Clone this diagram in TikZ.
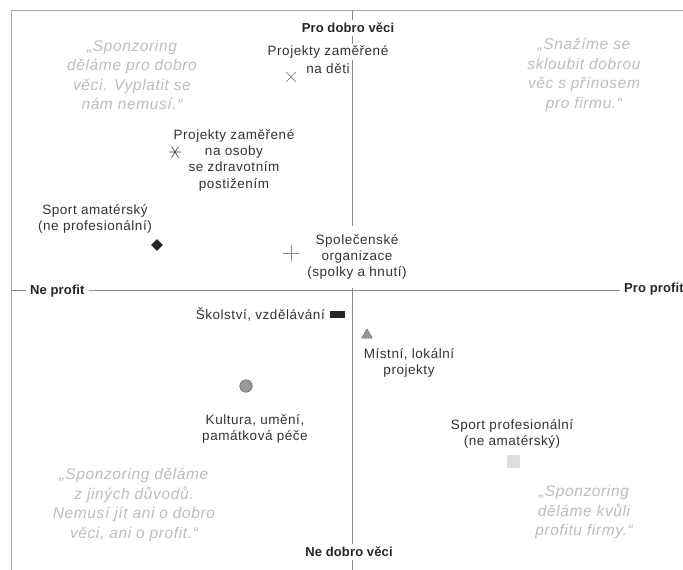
\documentclass[tikz,border=0pt]{standalone}
\usepackage{fontspec}
\setmainfont{Liberation Sans}
\newfontfamily\labfont[LetterSpace=4]{Liberation Sans}
\newfontfamily\axfont[LetterSpace=1]{Liberation Sans}
\newfontfamily\quofont[LetterSpace=4]{Liberation Sans}
\usetikzlibrary{shapes.geometric,shapes.misc}
\definecolor{labc}{HTML}{333333}
\definecolor{quoc}{HTML}{BDBDBD}
\definecolor{axc}{HTML}{8C8C8C}
\definecolor{brdc}{HTML}{ABABAB}
\begin{document}
\begin{tikzpicture}[x=1pt,y=-1pt,
  lab/.style={font=\labfont\fontsize{13.5}{16.3}\selectfont, text=labc, align=center, inner sep=0pt},
  axlab/.style={font=\axfont\bfseries\fontsize{13}{15}\selectfont, text=black!85, fill=white, inner xsep=4pt, inner ysep=3pt},
  quo/.style={font=\quofont\itshape\fontsize{15.5}{19.5}\selectfont, text=quoc, align=center, inner sep=0pt},
  axisline/.style={draw=axc, line width=0.9pt},
  borderline/.style={draw=brdc, line width=1pt},
  mk/.style={line width=0.7pt}
]
\useasboundingbox (0,0) rectangle (683,570);
\fill[white] (0,0) rectangle (683,570);

% frame and axes
\coordinate (tl) at (11,10);
\coordinate (tr) at (684,10);
\coordinate (bl) at (11,571);
\coordinate (vt) at (352,10);
\coordinate (vb) at (352,571);
\coordinate (hl) at (11,290);
\coordinate (hr) at (684,290);
\draw[borderline] (bl) -- (tl) -- (tr);
\draw[axisline] (vt) -- (vb);
\draw[axisline] (hl) -- (hr);

% axis labels
\node[axlab] (pdv) at (348,28) {Pro dobro věci};
\node[axlab] (ndv) at (349,552) {Ne dobro věci};
\node[axlab, anchor=west] (np) at (26,291) {Ne profit};
\node[axlab, anchor=west] (pp) at (620,289) {Pro profit};

% quotes
\node[quo] (q1) at (132,75) {„Sponzoring\\děláme pro dobro\\věci. Vyplatit se\\nám nemusí.“};
\node[quo] (q2) at (584,75) {„Snažíme se\\skloubit dobrou\\věc s přínosem\\pro firmu.“};
\node[quo] (q3) at (134,505) {„Sponzoring děláme\\z jiných důvodů.\\Nemusí jít ani o dobro\\věci, ani o profit.“};
\node[quo] (q4) at (584,512) {„Sponzoring\\děláme kvůli\\profitu firmy.“};

% labels
\node[lab, fill=white, inner sep=1.5pt] (pz1) at (328,52) {Projekty zaměřené};
\node[lab] (pz2) at (328,69) {na děti};
\node[lab] (pzo) at (234,160) {Projekty zaměřené\\na osoby\\se zdravotním\\postižením};
\node[lab] (spa) at (95,219) {Sport amatérský\\(ne profesionální)};
\node[lab, fill=white, inner xsep=3pt, inner ysep=8pt] (spo) at (357,257) {Společenské\\organizace\\(spolky a hnutí)};
\node[lab, anchor=east] (sko) at (325,314) {Školství, vzdělávání};
\node[lab] (mis) at (409,363) {Místní, lokální\\projekty};
\node[lab] (kul) at (255,429) {Kultura, umění,\\památková péče};
\node[lab] (spp) at (512,434) {Sport profesionální\\(ne amatérský)};

% markers
\node[cross out, draw=black!60, mk, minimum size=9pt, inner sep=0pt] (mx) at (291,77) {};
\draw[mk, draw=black!70, shift={(175,152)}] (-6,0) -- (6,0) (-3.5,-5.5) -- (3.5,5.5) (-3.5,5.5) -- (3.5,-5.5);
\node[diamond, fill=black!85, minimum size=12pt, inner sep=0pt] (md) at (157,245) {};
\node[cross out, rotate=45, draw=black!45, mk, minimum size=11pt, inner sep=0pt] (mp) at (291,253) {};
\node[rectangle, fill=black!85, minimum width=15pt, minimum height=7pt, inner sep=0pt] (mr) at (337,314) {};
\node[regular polygon, regular polygon sides=3, fill=black!40, draw=black!60, line width=0.5pt, minimum size=12pt, inner sep=0pt] (mt) at (367,335) {};
\node[circle, fill=black!40, draw=black!60, line width=0.5pt, minimum size=12.5pt, inner sep=0pt] (mc) at (246,386) {};
\node[rectangle, fill=black!13, minimum size=13pt, inner sep=0pt] (ms) at (513,461) {};
\end{tikzpicture}
\end{document}
